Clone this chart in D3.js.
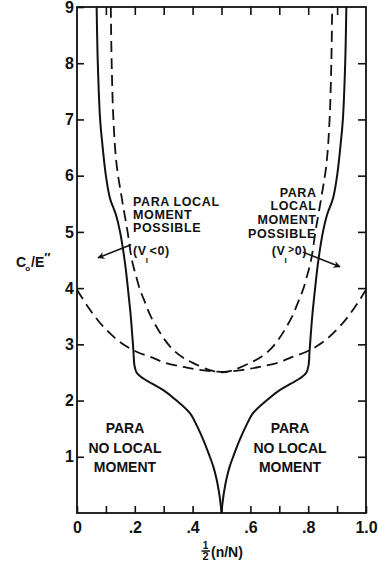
<!DOCTYPE html>
<html>
<head>
<meta charset="utf-8">
<script src="https://cdn.jsdelivr.net/npm/d3@7"></script>
<style>
  html, body { margin: 0; padding: 0; background: #fff; }
  svg { display: block; }
  text { font-family: "Liberation Sans", Arial, sans-serif; fill: #111; }
</style>
</head>
<body>
<svg id="chart" width="379" height="563"></svg>
<script>
// Phase boundary (solid): left branch runs from the top down to the cusp at 1/2
const boundaryLeftX = [0.068, 0.072, 0.080, 0.087, 0.100, 0.114, 0.135, 0.149, 0.166, 0.176, 0.186, 0.195, 0.199, 0.206, 0.222, 0.260, 0.300, 0.340, 0.390, 0.415, 0.437, 0.456, 0.472, 0.483, 0.490, 0.496, 0.500];
const boundaryLeftY = [9.00, 8.00, 7.00, 6.60, 6.00, 5.60, 5.30, 5.00, 4.45, 4.00, 3.50, 2.90, 2.62, 2.50, 2.42, 2.30, 2.18, 2.02, 1.78, 1.55, 1.30, 1.05, 0.82, 0.60, 0.41, 0.20, 0.00];
// right branch, from the cusp up to the top
const boundaryRightX = [0.500, 0.504, 0.510, 0.517, 0.528, 0.544, 0.563, 0.585, 0.610, 0.660, 0.700, 0.740, 0.778, 0.794, 0.801, 0.805, 0.814, 0.824, 0.834, 0.851, 0.865, 0.886, 0.900, 0.913, 0.920, 0.928, 0.932];
const boundaryRightY = [0.00, 0.20, 0.41, 0.60, 0.82, 1.05, 1.30, 1.55, 1.78, 2.02, 2.18, 2.30, 2.42, 2.50, 2.62, 2.90, 3.50, 4.00, 4.45, 5.00, 5.30, 5.60, 6.00, 6.60, 7.00, 8.00, 9.00];

// U-shaped dashed curve
const uCurveX = [0.117, 0.120, 0.126, 0.137, 0.155, 0.175, 0.190, 0.205, 0.218, 0.232, 0.255, 0.281, 0.305, 0.333, 0.365, 0.401, 0.460, 0.500, 0.540, 0.599, 0.635, 0.667, 0.695, 0.719, 0.745, 0.768, 0.782, 0.795, 0.810, 0.825, 0.845, 0.863, 0.874, 0.880, 0.883];
const uCurveY = [9.00, 8.00, 7.00, 6.20, 5.60, 5.00, 4.50, 4.20, 3.97, 3.79, 3.50, 3.26, 3.07, 2.90, 2.77, 2.67, 2.54, 2.50, 2.54, 2.67, 2.77, 2.90, 3.07, 3.26, 3.50, 3.79, 3.97, 4.20, 4.50, 5.00, 5.60, 6.20, 7.00, 8.00, 9.00];

// broad dashed curve
const broadCurveX = [0.000, 0.040, 0.080, 0.130, 0.172, 0.210, 0.253, 0.300, 0.367, 0.420, 0.500, 0.580, 0.633, 0.700, 0.747, 0.790, 0.828, 0.870, 0.920, 0.960, 1.000];
const broadCurveY = [3.97, 3.65, 3.38, 3.12, 2.96, 2.86, 2.78, 2.68, 2.60, 2.55, 2.51, 2.55, 2.60, 2.68, 2.78, 2.86, 2.96, 3.12, 3.38, 3.65, 3.97];

// axes
const xMinorTicks = [0, 0.1, 0.2, 0.3, 0.4, 0.5, 0.6, 0.7, 0.8, 0.9, 1.0];
const xLabelTicks = [0, 0.2, 0.4, 0.6, 0.8, 1.0];
const xTickLabels = ["0", ".2", ".4", ".6", ".8", "1.0"];
const yTicks = [1, 2, 3, 4, 5, 6, 7, 8, 9];
const yTickLabels = ["1", "2", "3", "4", "5", "6", "7", "8", "9"];

const W = 379, H = 563;
const margin = { left: 77, top: 7, right: 13, bottom: 50 };

const svg = d3.select("#chart");
const x = d3.scaleLinear().domain([0, 1]).range([margin.left, W - margin.right]);
const y = d3.scaleLinear().domain([0, 9]).range([H - margin.bottom, margin.top]);

const defs = svg.append("defs");
defs.append("clipPath").attr("id", "plotClip")
  .append("rect")
  .attr("x", x(0)).attr("y", y(9))
  .attr("width", x(1) - x(0)).attr("height", y(0) - y(9));

defs.append("marker")
  .attr("id", "arrow")
  .attr("viewBox", "0 0 10 10")
  .attr("refX", 9).attr("refY", 5)
  .attr("markerWidth", 7).attr("markerHeight", 7)
  .attr("markerUnits", "userSpaceOnUse")
  .attr("orient", "auto")
  .append("path").attr("d", "M0,0 L10,5 L0,10 L3,5 Z").attr("fill", "#111");

const zip = (xs, ys) => xs.map((v, i) => [v, ys[i]]);
const line = d3.line().x(d => x(d[0])).y(d => y(d[1])).curve(d3.curveCatmullRom.alpha(0.5));

const plot = svg.append("g").attr("clip-path", "url(#plotClip)");

// dashed curves
plot.append("path").datum(zip(broadCurveX, broadCurveY))
  .attr("d", line).attr("fill", "none").attr("stroke", "#111")
  .attr("stroke-width", 1.8).attr("stroke-dasharray", "11,6");
plot.append("path").datum(zip(uCurveX, uCurveY))
  .attr("d", line).attr("fill", "none").attr("stroke", "#111")
  .attr("stroke-width", 1.8).attr("stroke-dasharray", "11,6");

// solid boundary
[zip(boundaryLeftX, boundaryLeftY), zip(boundaryRightX, boundaryRightY)].forEach(pts => {
  plot.append("path").datum(pts)
    .attr("d", line).attr("fill", "none").attr("stroke", "#111")
    .attr("stroke-width", 2);
});

// frame
svg.append("rect")
  .attr("x", x(0)).attr("y", y(9))
  .attr("width", x(1) - x(0)).attr("height", y(0) - y(9))
  .attr("fill", "none").attr("stroke", "#111").attr("stroke-width", 1.8);

// ticks pointing into the plot
const styleAxis = g => {
  g.select(".domain").remove();
  g.selectAll(".tick line").attr("stroke", "#111").attr("stroke-width", 1.6);
};
const labelOf = (vals, labels) => d => { const i = vals.indexOf(d); return i < 0 ? "" : labels[i]; };

svg.append("g").attr("transform", `translate(0,${y(0)})`)
  .call(d3.axisBottom(x).tickValues(xMinorTicks).tickSizeInner(-7).tickSizeOuter(0)
    .tickPadding(9).tickFormat(labelOf(xLabelTicks, xTickLabels)))
  .call(styleAxis)
  .call(g => g.selectAll("text").attr("font-size", 16).attr("font-weight", "bold").attr("fill", "#111"));

svg.append("g").attr("transform", `translate(0,${y(9)})`)
  .call(d3.axisTop(x).tickValues(xMinorTicks.slice(1, -1)).tickSizeInner(-8).tickSizeOuter(0).tickFormat(""))
  .call(styleAxis);

svg.append("g").attr("transform", `translate(${x(0)},0)`)
  .call(d3.axisLeft(y).tickValues(yTicks).tickSizeInner(-7).tickSizeOuter(0)
    .tickPadding(3).tickFormat(labelOf(yTicks, yTickLabels)))
  .call(styleAxis)
  .call(g => g.selectAll("text").attr("font-size", 16).attr("font-weight", "bold").attr("fill", "#111"));

svg.append("g").attr("transform", `translate(${x(1)},0)`)
  .call(d3.axisRight(y).tickValues(yTicks.slice(0, -1)).tickSizeInner(-8).tickSizeOuter(0).tickFormat(""))
  .call(styleAxis);

// y-axis title  C0/E''
const yTitle = svg.append("text").attr("x", 16).attr("y", 267)
  .attr("font-size", 14).attr("font-weight", "bold");
yTitle.append("tspan").text("C");
yTitle.append("tspan").attr("font-size", 8).attr("dx", -1).attr("dy", 4).text("o");
yTitle.append("tspan").attr("dx", 1).attr("dy", -4).text("/E");
yTitle.append("tspan").attr("font-size", 13).attr("dy", -5).text("\u2033");

// x-axis title  1/2 (n/N)
const xt = svg.append("g");
xt.append("text").attr("x", 205.5).attr("y", 549).attr("font-size", 10)
  .attr("text-anchor", "middle").attr("font-weight", "bold").text("1");
xt.append("line").attr("x1", 201.5).attr("x2", 210).attr("y1", 551).attr("y2", 551)
  .attr("stroke", "#111").attr("stroke-width", 1.5);
xt.append("text").attr("x", 205.5).attr("y", 560).attr("font-size", 11)
  .attr("text-anchor", "middle").attr("font-weight", "bold").text("2");
xt.append("text").attr("x", 211).attr("y", 557).attr("font-size", 14)
  .attr("font-weight", "bold").text("(n/N)");

// region annotations: each block is one multi-line text element
function block(anchor, size, spacing, rows) {
  const t = svg.append("text").attr("text-anchor", anchor)
    .attr("font-size", size).attr("font-weight", "bold").attr("letter-spacing", spacing);
  rows.forEach(r => {
    const first = t.append("tspan").attr("x", x(r.x)).attr("y", y(r.y));
    if (!r.sign) { first.text(r.t); return; }
    // (V_I <sign> 0)
    first.text("(V");
    t.append("tspan").attr("font-size", 8).attr("dx", -1).attr("dy", 8).text("I");
    const small = r.sign === ">";
    t.append("tspan").attr("font-size", small ? 10 : size).attr("dx", 1)
      .attr("dy", small ? -10 : -8).text(r.sign);
    t.append("tspan").attr("font-size", size).attr("dy", small ? 2 : 0).text("0)");
  });
}
block("start", 12.5, 0.6, [
  { t: "PARA LOCAL", x: 0.194, y: 5.454 },
  { t: "MOMENT", x: 0.194, y: 5.222 },
  { t: "POSSIBLE", x: 0.194, y: 4.991 },
  { sign: "<", x: 0.194, y: 4.59 }
]);
block("end", 12.5, 0.6, [
  { t: "PARA", x: 0.829, y: 5.62 },
  { t: "LOCAL", x: 0.829, y: 5.39 },
  { t: "MOMENT", x: 0.829, y: 5.14 },
  { t: "POSSIBLE", x: 0.827, y: 4.89 },
  { sign: ">", x: 0.796, y: 4.59 }
]);
block("middle", 14, 0, [
  { t: "PARA", x: 0.166, y: 1.42 },
  { t: "NO LOCAL", x: 0.166, y: 1.07 },
  { t: "MOMENT", x: 0.166, y: 0.73 }
]);
block("middle", 14, 0, [
  { t: "PARA", x: 0.737, y: 1.42 },
  { t: "NO LOCAL", x: 0.737, y: 1.07 },
  { t: "MOMENT", x: 0.737, y: 0.73 }
]);

// arrows pointing out of the moment regions
const arrowsFrom = [[0.187, 4.77], [0.782, 4.64]];
const arrowsTo = [[0.073, 4.54], [0.910, 4.38]];
arrowsFrom.forEach((f, i) => {
  svg.append("line")
    .attr("x1", x(f[0])).attr("y1", y(f[1]))
    .attr("x2", x(arrowsTo[i][0])).attr("y2", y(arrowsTo[i][1]))
    .attr("stroke", "#111").attr("stroke-width", 1.5)
    .attr("marker-end", "url(#arrow)");
});
</script>
</body>
</html>
